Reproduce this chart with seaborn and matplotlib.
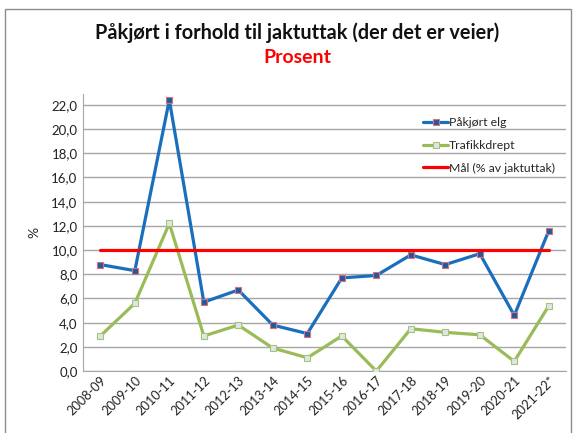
import matplotlib
matplotlib.use('Agg')
import matplotlib.pyplot as plt
import seaborn as sns
import pandas as pd
from matplotlib.patches import Rectangle
from matplotlib.ticker import FuncFormatter

seasons = ['2008-09', '2009-10', '2010-11', '2011-12', '2012-13', '2013-14', '2014-15',
           '2015-16', '2016-17', '2017-18', '2018-19', '2019-20', '2020-21', '2021-22*']
pakjort_elg = [8.8, 8.3, 22.4, 5.7, 6.7, 3.8, 3.1, 7.7, 7.9, 9.6, 8.8, 9.7, 4.6, 11.6]
trafikkdrept = [2.9, 5.6, 12.2, 2.9, 3.8, 1.9, 1.1, 2.9, 0.0, 3.5, 3.2, 3.0, 0.8, 5.4]
maal = [10.0] * len(seasons)

df = pd.DataFrame({'Sesong': seasons, 'Påkjørt elg': pakjort_elg,
                   'Trafikkdrept': trafikkdrept, 'Mål (% av jaktuttak)': maal})

sns.set_style('white')
plt.rcParams['font.family'] = ['Lato', 'DejaVu Sans']

fig = plt.figure(figsize=(5.77, 4.33), dpi=100)
ax = fig.add_axes([0.144, 0.143, 0.837, 0.640])

sns.lineplot(data=df, x='Sesong', y='Påkjørt elg', ax=ax, color='#1a6fbd', lw=2.3,
             marker='s', markersize=5, markerfacecolor='#1f5aa0', markeredgecolor='#d9707a',
             markeredgewidth=0.8, label='Påkjørt elg', zorder=4)
sns.lineplot(data=df, x='Sesong', y='Trafikkdrept', ax=ax, color='#9bbb59', lw=2.3,
             marker='s', markersize=5, markerfacecolor='#dce6f2', markeredgecolor='#a8c46a',
             markeredgewidth=0.8, label='Trafikkdrept', zorder=3)
sns.lineplot(data=df, x='Sesong', y='Mål (% av jaktuttak)', ax=ax, color='#ff0000', lw=2.3,
             label='Mål (% av jaktuttak)', zorder=5)

ax.set_xlim(-0.5, len(seasons) - 0.5)
ax.set_ylim(0, 22.9)
ax.set_yticks(range(0, 23, 2))
ax.yaxis.set_major_formatter(FuncFormatter(lambda v, p: f'{v:.1f}'.replace('.', ',')))
ax.yaxis.grid(True, color='#a6a6a6', lw=1)
ax.set_axisbelow(True)
for s in ['top', 'right']:
    ax.spines[s].set_visible(False)
for s in ['left', 'bottom']:
    ax.spines[s].set_color('#a6a6a6')
ax.tick_params(axis='y', labelsize=9.5, length=0, pad=4, colors='#222222')
ax.tick_params(axis='x', labelsize=9.2, length=0, pad=2, colors='#222222')
plt.setp(ax.get_xticklabels(), rotation=45, ha='right', rotation_mode='anchor')
ax.set_xlabel('')
ax.set_ylabel('%', fontsize=10, labelpad=8)

leg = ax.legend(loc='upper right', bbox_to_anchor=(1.0, 0.955), frameon=False,
                fontsize=8.8, handlelength=2.0, handletextpad=0.1, labelspacing=0.95)

fig.text(0.515, 0.925, 'Påkjørt i forhold til jaktuttak (der det er veier)',
         ha='center', va='center', fontsize=14.3, fontweight='bold', color='#111111')
fig.text(0.515, 0.867, 'Prosent', ha='center', va='center', fontsize=14,
         fontweight='bold', color='#ff0000')

fig.patches.append(Rectangle((5 / 577, -0.01), 566 / 577, 1 - 9 / 433 + 0.01,
                             transform=fig.transFigure, fill=False,
                             edgecolor='#8c8c8c', lw=1))

fig.savefig('out.png', dpi=100)
